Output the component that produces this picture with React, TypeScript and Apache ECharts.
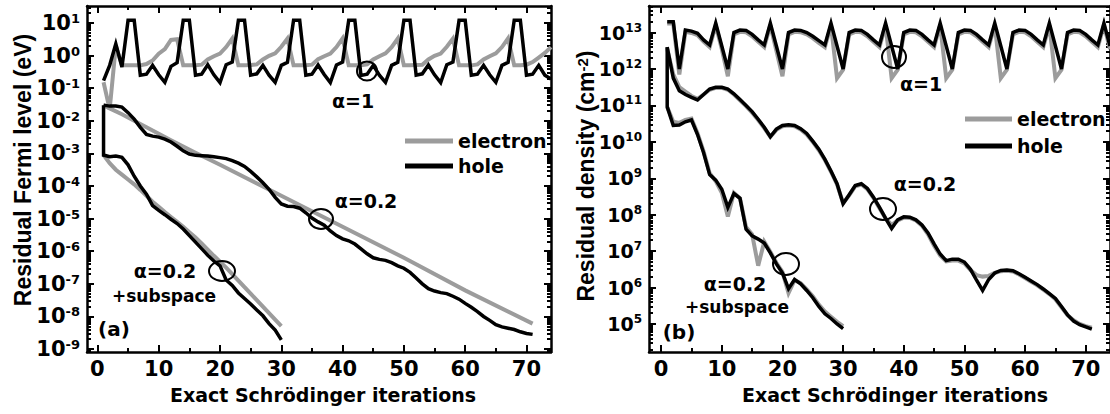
import React, { useEffect, useRef } from 'react';
import * as echarts from 'echarts';

const FONT_H = '"DejaVu Sans", sans-serif';
const FONT_V = '"Liberation Sans", Arial, sans-serif';
const GRAY = '#9c9c9c';
const BLACK = '#000000';

// ---------- tick labels ----------
const X_MAJOR = [0, 10, 20, 30, 40, 50, 60, 70];
const X_MINOR = [5, 15, 25, 35, 45, 55, 65];
const FERMI_DECADES = [-9, -8, -7, -6, -5, -4, -3, -2, -1, 0, 1];
const DENS_DECADES = [5, 6, 7, 8, 9, 10, 11, 12, 13];

// ---------- iterations ----------
const ITER_74 = Array.from({ length: 74 }, (_, i) => i + 1);
const ITER_71 = Array.from({ length: 71 }, (_, i) => i + 1);
const ITER_30 = Array.from({ length: 30 }, (_, i) => i + 1);
const SUB_ITER = [1, 1, 2, 3, 4, 5, 6, 7, 8, 9, 10, 11, 12, 13, 14, 15, 16, 17, 18, 19, 20, 21, 22, 23, 24, 25, 26, 27, 28, 29, 30];

// ---------- (a) residual Fermi level, log10(eV) ----------
const fermiA1HoleLog = [
  -0.77, -0.3, 0.36, -0.35, 1.08, 1.08, -0.6, -0.57, -0.3, -0.59, -0.82, -0.33, -0.22,
  1.08, 1.08, -0.6, -0.57, -0.28, -0.59, -0.83, -0.28, -0.2,
  1.08, 1.08, -0.6, -0.56, -0.3, -0.6, -0.82, -0.3, -0.21,
  1.08, 1.08, -0.6, -0.57, -0.29, -0.58, -0.83, -0.29, -0.2,
  1.08, 1.08, -0.61, -0.57, -0.3, -0.6, -0.82, -0.3, -0.21,
  1.08, 1.08, -0.6, -0.56, -0.29, -0.59, -0.83, -0.28, -0.2,
  1.08, 1.08, -0.6, -0.57, -0.3, -0.59, -0.82, -0.3, -0.21,
  1.08, 1.08, -0.6, -0.57, -0.3, -0.6, -0.72,
];
const fermiA1ElecLog = [
  -0.82, -1.65, 0.3, -0.3, -0.3, -0.3, -0.3, -0.26, -0.15, 0.06, 0.2, 0.48, 0.5,
  -0.3, -0.3, -0.3, -0.28, -0.12, -0.02, 0.06, 0.26, 0.52,
  -0.3, -0.3, -0.29, -0.27, -0.12, -0.01, 0.07, 0.27, 0.52,
  -0.3, -0.3, -0.3, -0.28, -0.11, -0.02, 0.06, 0.26, 0.53,
  -0.3, -0.3, -0.3, -0.27, -0.12, -0.02, 0.07, 0.26, 0.52,
  -0.3, -0.3, -0.29, -0.28, -0.12, -0.01, 0.06, 0.27, 0.52,
  -0.3, -0.3, -0.3, -0.27, -0.12, -0.02, 0.07, 0.26, 0.53,
  -0.3, -0.3, -0.28, -0.2, -0.06, 0.08, 0.26,
];
const fermiA02HoleLog = [
  -1.52, -1.55, -1.55, -1.58, -1.75, -1.95, -2.2, -2.42, -2.47, -2.5,
  -2.56, -2.65, -2.78, -2.92, -3.02, -3.06, -3.07, -3.08, -3.1, -3.13,
  -3.16, -3.22, -3.3, -3.4, -3.55, -3.72, -3.9, -4.1, -4.35, -4.55,
  -4.62, -4.63, -4.68, -4.82, -4.98, -5.1, -5.2, -5.38, -5.52, -5.62,
  -5.68, -5.78, -5.93, -6.08, -6.2, -6.25, -6.28, -6.35, -6.45, -6.52,
  -6.65, -6.82, -7.0, -7.15, -7.22, -7.27, -7.3, -7.38, -7.47, -7.6,
  -7.72, -7.85, -8.0, -8.12, -8.25, -8.32, -8.36, -8.4, -8.47, -8.52,
  -8.55,
];
const fermiA02ElecIter = [1, 2, 4, 8, 12, 16, 20, 30, 40, 50, 60, 71];
const fermiA02ElecLog = [-1.52, -1.62, -1.8, -2.2, -2.6, -2.98, -3.35, -4.3, -5.25, -6.2, -7.2, -8.22];
const fermiSubHoleLog = [
  -1.52, -3.05, -3.1, -3.08, -3.12, -3.35, -3.7, -4.0, -4.25, -4.6, -4.75,
  -4.88, -5.02, -5.15, -5.32, -5.52, -5.72, -5.92, -6.12, -6.3, -6.45,
  -6.88, -7.05, -7.28, -7.45, -7.62, -7.8, -7.98, -8.22, -8.42, -8.72,
];
const fermiSubElecLog = [
  -3.05, -3.3, -3.5, -3.65, -3.8, -3.95, -4.12, -4.3, -4.48, -4.64,
  -4.8, -4.95, -5.1, -5.25, -5.42, -5.58, -5.76, -5.95, -6.14, -6.32,
  -6.5, -6.7, -6.9, -7.1, -7.3, -7.5, -7.7, -7.9, -8.1, -8.3,
];

// ---------- (b) residual density, log10(cm^-2) ----------
const densA1HoleLog = [
  13.3, 13.3, 12.0, 13.07, 13.04, 12.98, 12.8, 12.66, 13.26, 12.63,
  12.0, 13.0, 13.07, 13.06, 12.95, 12.8, 12.66, 13.26, 12.63,
  12.0, 13.0, 13.07, 13.06, 13.0, 12.9, 12.78, 12.66, 13.26, 12.63,
  12.0, 13.0, 13.07, 13.06, 12.95, 12.8, 12.66, 13.26, 12.63,
  12.0, 13.0, 13.07, 13.06, 12.95, 12.8, 12.66, 13.26, 12.63,
  12.0, 13.0, 13.07, 13.06, 12.95, 12.8, 12.66, 13.26, 12.63,
  12.0, 13.0, 13.07, 13.06, 12.95, 12.8, 12.66, 13.26, 12.63,
  12.0, 13.0, 13.07, 13.06, 12.95, 12.8, 12.66, 13.26, 12.63,
];
const densA1ElecLog = [
  13.25, 13.25, 11.85, 13.02, 12.99, 12.93, 12.75, 12.6, 13.2, 12.55,
  11.8, 12.95, 13.02, 13.01, 12.9, 12.75, 12.6, 13.2, 12.5,
  11.8, 12.95, 13.02, 13.01, 12.95, 12.85, 12.72, 12.6, 13.2, 11.75,
  11.98, 12.95, 13.02, 13.01, 12.9, 12.75, 12.6, 13.2, 11.75,
  11.98, 12.95, 13.02, 13.01, 12.9, 12.75, 12.6, 13.2, 11.75,
  11.98, 12.95, 13.02, 13.01, 12.9, 12.75, 12.6, 13.2, 11.75,
  11.98, 12.95, 13.02, 13.01, 12.9, 12.75, 12.6, 13.2, 11.75,
  11.98, 12.95, 13.02, 13.01, 12.9, 12.75, 12.6, 13.2, 12.55,
];
const densA02HoleLog = [
  12.6, 11.75, 11.4, 11.3, 11.22, 11.15, 11.3, 11.45, 11.5, 11.5,
  11.45, 11.32, 11.16, 11.0, 10.83, 10.62, 10.4, 10.14, 10.35, 10.45,
  10.47, 10.45, 10.36, 10.23, 10.02, 9.8, 9.52, 9.2, 8.85, 8.3,
  8.55, 8.8, 8.85, 8.72, 8.48, 8.2, 7.9, 7.62, 7.86, 7.94,
  7.93, 7.86, 7.72, 7.5, 7.2, 6.92, 6.74, 6.78, 6.78, 6.7,
  6.5, 6.2, 5.92, 6.22, 6.4, 6.47, 6.48, 6.46, 6.38, 6.28,
  6.18, 6.08, 5.96, 5.83, 5.7, 5.48, 5.25, 5.08, 4.98, 4.92,
  4.86,
];
const densA02ElecLog = [
  12.55, 11.85, 11.5, 11.38, 11.26, 11.18, 11.3, 11.43, 11.48, 11.48,
  11.43, 11.3, 11.14, 10.98, 10.8, 10.6, 10.38, 10.14, 10.33, 10.43,
  10.45, 10.43, 10.34, 10.2, 10.0, 9.77, 9.5, 9.18, 8.83, 8.32,
  8.53, 8.78, 8.83, 8.7, 8.46, 8.18, 7.9, 7.72, 7.84, 7.92,
  7.91, 7.84, 7.7, 7.46, 7.15, 6.88, 6.72, 6.74, 6.74, 6.66,
  6.48, 6.34, 6.3, 6.32, 6.4, 6.45, 6.46, 6.44, 6.36, 6.26,
  6.16, 6.06, 5.94, 5.82, 5.68, 5.46, 5.24, 5.1, 5.0, 4.94,
  4.9,
];
const densSubHoleLog = [
  12.6, 10.96, 10.45, 10.46, 10.55, 10.6, 10.2, 9.7, 9.1, 8.95, 8.7,
  8.2, 8.58, 8.45, 7.6, 7.42, 7.33, 7.22, 6.95, 6.65, 6.4,
  5.97, 6.22, 6.1, 5.92, 5.72, 5.48, 5.28, 5.15, 5.0, 4.87,
];
const densSubElecLog = [
  10.96, 10.55, 10.52, 10.6, 10.64, 10.24, 9.74, 9.14, 8.92, 8.6,
  7.95, 8.6, 8.45, 7.66, 7.46, 6.6, 7.26, 6.98, 6.68, 6.43,
  5.85, 6.2, 6.12, 5.95, 5.76, 5.53, 5.34, 5.2, 5.06, 4.94,
];

// ---------- layout ----------
const PANELS = [
  { left: 87, xMin: -1.7, xMax: 74, yMin: -9.09, yMax: 1.52, decades: FERMI_DECADES, labelSize: 21, supSize: 13 },
  { left: 649, xMin: -2.0, xMax: 74, yMin: 4.23, yMax: 13.73, decades: DENS_DECADES, labelSize: 19, supSize: 12 },
];
const GRID_TOP = 6;
const GRID_W = 464;
const GRID_H = 346;

function minorLogTicks(min: number, max: number): number[] {
  const out: number[] = [];
  for (let n = Math.floor(min); n <= Math.ceil(max); n++) {
    for (let k = 2; k <= 9; k++) {
      const v = n + Math.log10(k);
      if (v > min && v < max) out.push(v);
    }
  }
  return out;
}

const axisLineStyle = { color: BLACK, width: 2.5 };
const tickStyle = { color: BLACK, width: 2 };

function buildAxes(p: typeof PANELS[number], gi: number) {
  const xBase = { type: 'value', gridIndex: gi, min: p.xMin, max: p.xMax, splitLine: { show: false } };
  const yBase = { type: 'value', gridIndex: gi, min: p.yMin, max: p.yMax, splitLine: { show: false } };
  const yMinor = minorLogTicks(p.yMin, p.yMax);
  const xAxes = [
    {
      ...xBase, position: 'bottom',
      axisLine: { show: true, onZero: false, lineStyle: axisLineStyle },
      axisTick: { show: true, inside: true, length: 7, lineStyle: tickStyle, customValues: X_MAJOR },
      axisLabel: { show: true, customValues: X_MAJOR, margin: 6, color: BLACK, fontSize: 21, fontWeight: 'bold', fontFamily: FONT_H },
    },
    {
      ...xBase, position: 'bottom',
      axisLine: { show: false, onZero: false },
      axisTick: { show: true, inside: true, length: 4, lineStyle: tickStyle, customValues: X_MINOR },
      axisLabel: { show: false },
    },
    {
      ...xBase, position: 'top',
      axisLine: { show: true, onZero: false, lineStyle: axisLineStyle },
      axisTick: { show: true, inside: true, length: 7, lineStyle: tickStyle, customValues: X_MAJOR },
      axisLabel: { show: false },
    },
    {
      ...xBase, position: 'top',
      axisLine: { show: false, onZero: false },
      axisTick: { show: true, inside: true, length: 4, lineStyle: tickStyle, customValues: X_MINOR },
      axisLabel: { show: false },
    },
  ];
  const yAxes = [
    {
      ...yBase, position: 'left',
      axisLine: { show: true, onZero: false, lineStyle: axisLineStyle },
      axisTick: { show: true, inside: true, length: 7, lineStyle: tickStyle, customValues: p.decades },
      axisLabel: {
        show: true, customValues: p.decades, margin: 7, color: BLACK,
        fontSize: p.labelSize, fontWeight: 'bold', fontFamily: FONT_H, lineHeight: 22,
        formatter: (v: number) => `10{sup|${Math.round(v)}}`,
        rich: {
          sup: { fontSize: p.supSize, fontWeight: 'bold', fontFamily: FONT_H, color: BLACK, lineHeight: 8, verticalAlign: 'top' },
        },
      },
    },
    {
      ...yBase, position: 'left',
      axisLine: { show: false, onZero: false },
      axisTick: { show: true, inside: true, length: 4, lineStyle: tickStyle, customValues: yMinor },
      axisLabel: { show: false },
    },
    {
      ...yBase, position: 'right',
      axisLine: { show: true, onZero: false, lineStyle: axisLineStyle },
      axisTick: { show: true, inside: true, length: 7, lineStyle: tickStyle, customValues: p.decades },
      axisLabel: { show: false },
    },
    {
      ...yBase, position: 'right',
      axisLine: { show: false, onZero: false },
      axisTick: { show: true, inside: true, length: 4, lineStyle: tickStyle, customValues: yMinor },
      axisLabel: { show: false },
    },
  ];
  return { xAxes, yAxes };
}

function lineSeries(name: 'electron' | 'hole', xs: number[], ys: number[], panel: number) {
  const color = name === 'electron' ? GRAY : BLACK;
  return {
    type: 'line',
    name,
    data: xs.map((x, i) => [x, ys[i]]),
    xAxisIndex: panel * 4,
    yAxisIndex: panel * 4,
    symbol: 'none',
    showSymbol: false,
    silent: true,
    clip: true,
    z: name === 'hole' ? 4 : 3,
    color,
    itemStyle: { color },
    lineStyle: { color, width: name === 'hole' ? 3.5 : 4, join: 'miter', miterLimit: 4, cap: 'butt' },
    emphasis: { disabled: true },
  };
}

const txt = (text: string, x: number, y: number, size: number, extra: any = {}) => ({
  type: 'text', x, y, z: 100, silent: true, ...extra,
  style: {
    text, fill: BLACK, fontSize: size, fontWeight: 'bold', fontFamily: FONT_H,
    align: 'center', verticalAlign: 'middle', ...(extra.style || {}),
  },
});
const ring = (cx: number, cy: number, rx: number, ry: number) => ({
  type: 'ellipse', z: 100, silent: true,
  shape: { cx, cy, rx, ry },
  style: { fill: 'none', stroke: BLACK, lineWidth: 2 },
});

function buildOption() {
  const a = buildAxes(PANELS[0], 0);
  const b = buildAxes(PANELS[1], 1);
  const legendText = { color: BLACK, fontSize: 19, fontWeight: 'bold', fontFamily: FONT_H, lineHeight: 20 };
  return {
    animation: false,
    backgroundColor: '#ffffff',
    grid: PANELS.map((p) => ({ left: p.left, top: GRID_TOP, width: GRID_W, height: GRID_H, containLabel: false })),
    xAxis: [...a.xAxes, ...b.xAxes],
    yAxis: [...a.yAxes, ...b.yAxes],
    legend: [
      {
        data: ['electron', 'hole'], orient: 'vertical', left: 400, top: 126, icon: 'rect',
        itemWidth: 48, itemHeight: 5, itemGap: 5, selectedMode: false, textStyle: legendText,
      },
      {
        data: ['electron', 'hole'], orient: 'vertical', left: 960, top: 104, icon: 'rect',
        itemWidth: 47, itemHeight: 5, itemGap: 7, selectedMode: false, textStyle: legendText,
      },
    ],
    series: [
      // panel (a) electrons
      lineSeries('electron', ITER_74, fermiA1ElecLog, 0),
      lineSeries('electron', fermiA02ElecIter, fermiA02ElecLog, 0),
      lineSeries('electron', ITER_30, fermiSubElecLog, 0),
      // panel (a) holes
      lineSeries('hole', ITER_74, fermiA1HoleLog, 0),
      lineSeries('hole', ITER_71, fermiA02HoleLog, 0),
      lineSeries('hole', SUB_ITER, fermiSubHoleLog, 0),
      // panel (b) electrons
      lineSeries('electron', ITER_74, densA1ElecLog, 1),
      lineSeries('electron', ITER_71, densA02ElecLog, 1),
      lineSeries('electron', ITER_30, densSubElecLog, 1),
      // panel (b) holes
      lineSeries('hole', ITER_74, densA1HoleLog, 1),
      lineSeries('hole', ITER_71, densA02HoleLog, 1),
      lineSeries('hole', SUB_ITER, densSubHoleLog, 1),
    ],
    graphic: [
      // panel (a)
      txt('Residual Fermi level (eV)', 23, 170, 23, { rotation: Math.PI / 2, style: { fontFamily: FONT_V } }),
      txt('Exact Schrödinger iterations', 323, 395, 19),
      txt('α=1', 353, 101, 19),
      ring(367, 71, 10, 9.5),
      txt('α=0.2', 366, 201, 19),
      ring(321, 219, 12, 10),
      txt('α=0.2', 165, 271, 19),
      txt('+subspace', 164, 296, 17),
      ring(222, 271, 13, 10),
      txt('(a)', 114, 329, 20),
      // panel (b)
      txt('Residual density (cm{sup|-2})', 586, 176, 23, {
        rotation: Math.PI / 2,
        style: {
          fontFamily: FONT_V,
          rich: { sup: { fontSize: 15, fontWeight: 'bold', fontFamily: FONT_V, fill: BLACK, lineHeight: 10, verticalAlign: 'top' } },
        },
      }),
      txt('Exact Schrödinger iterations', 895, 395, 19),
      txt('α=1', 921, 84, 19),
      ring(894, 57, 12, 11),
      txt('α=0.2', 925, 184, 19),
      ring(883, 209, 13, 11),
      txt('α=0.2', 735, 284, 19),
      txt('+subspace', 737, 307, 17),
      ring(786, 264, 13, 11),
      txt('(b)', 679, 332, 20),
    ],
  };
}

export default function App() {
  const ref = useRef<HTMLDivElement>(null);
  useEffect(() => {
    if (!ref.current) return;
    const chart = echarts.init(ref.current, null, { renderer: 'svg' });
    chart.setOption(buildOption() as any);
    return () => chart.dispose();
  }, []);
  return (
    <div
      ref={ref}
      style={{ position: 'fixed', left: 0, top: 0, width: 1110, height: 414, background: '#fff' }}
    />
  );
}
